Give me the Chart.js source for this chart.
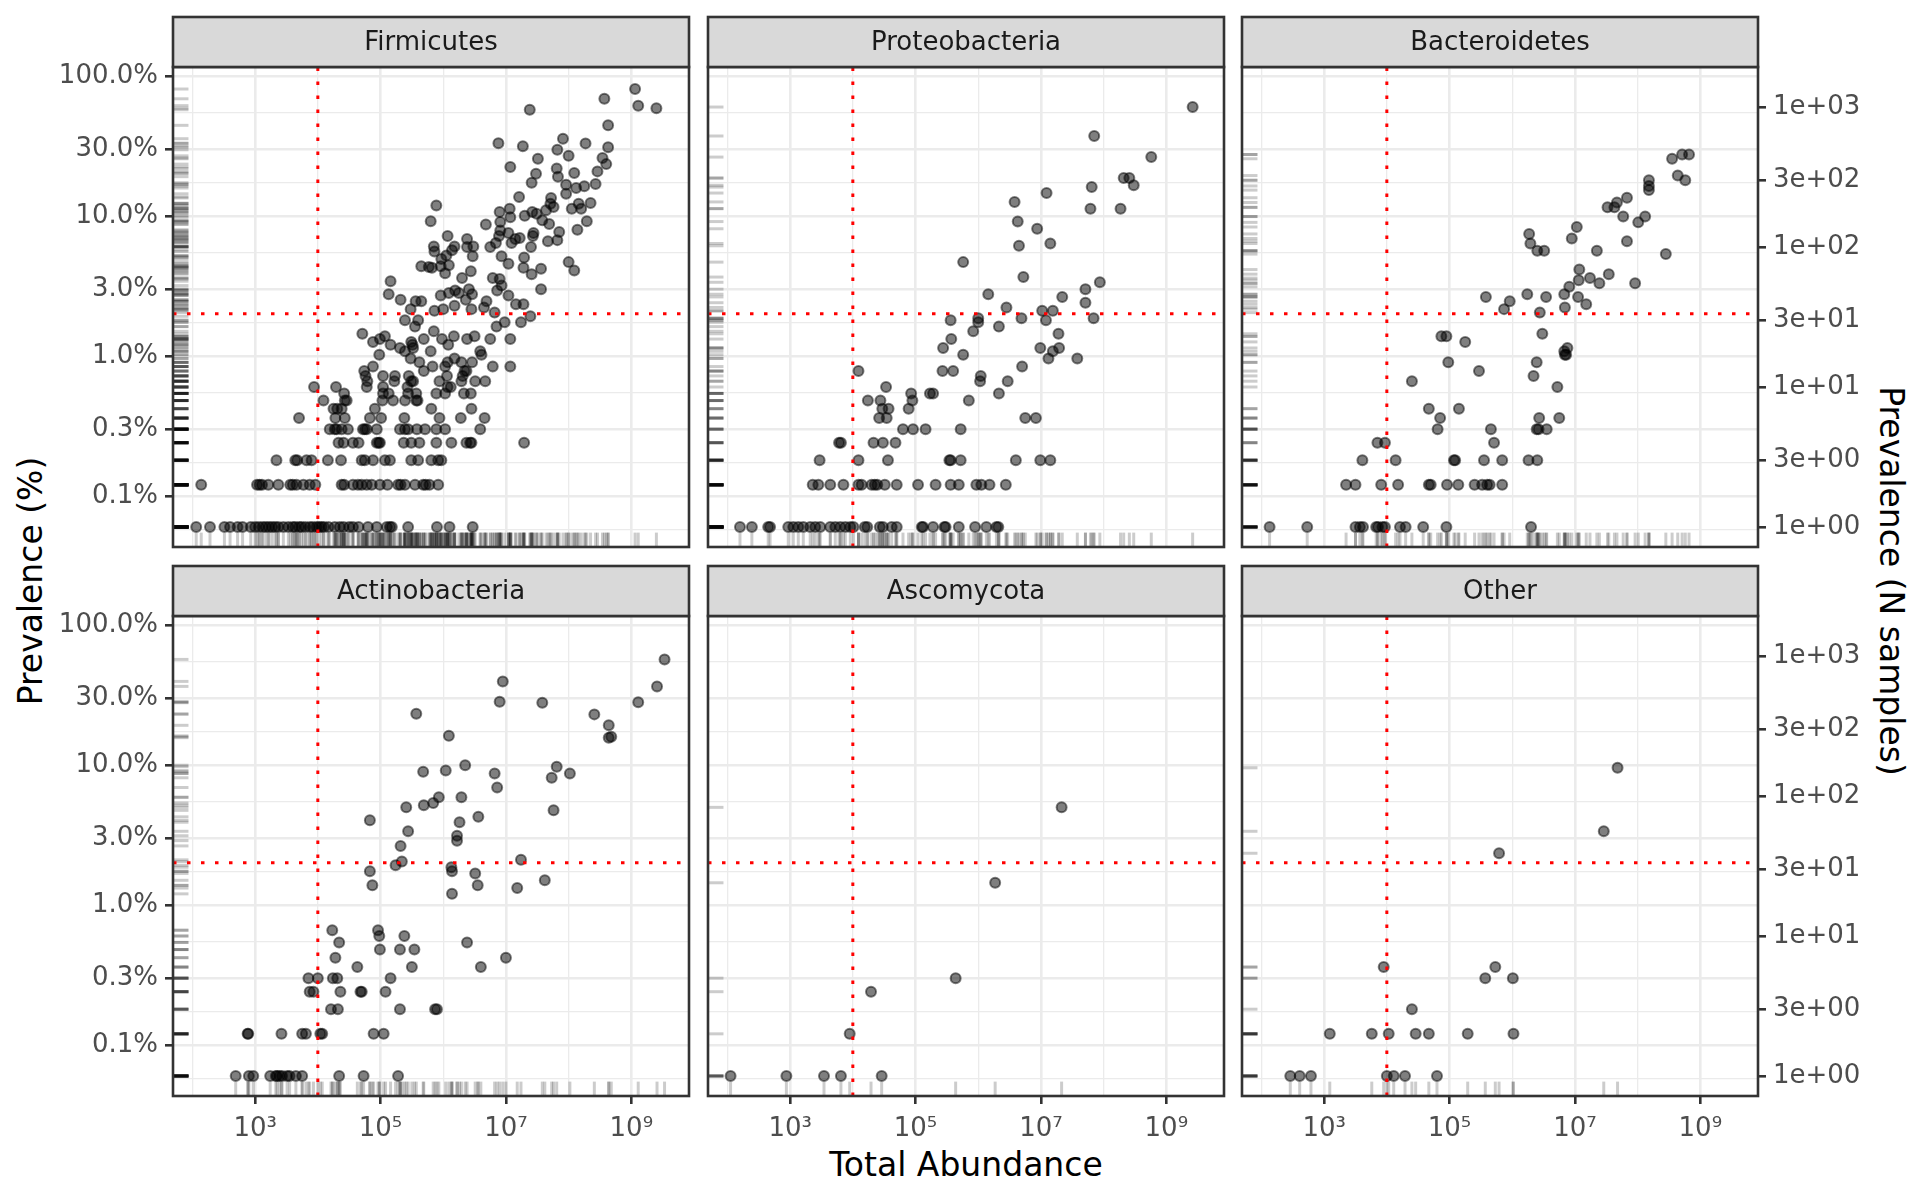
<!DOCTYPE html>
<html lang="en">
<head>
<meta charset="UTF-8">
<title>Prevalence vs Total Abundance by Phylum</title>
<script src="https://cdn.jsdelivr.net/npm/chart.js"></script>
<style>
  body { margin: 0; background: #fff; font-family: "DejaVu Sans", sans-serif; }
  #page { position: relative; width: 1920px; height: 1200px; overflow: hidden; background: #fff; }
  canvas.panel { position: absolute; }
  .axis-title { position: absolute; font-size: 33px; color: #000; white-space: nowrap; transform: translate(-50%, -50%); }
  #yTitle { left: 30px; top: 581px; transform: translate(-50%, -50%) rotate(-90deg); }
  #y2Title { left: 1891px; top: 581px; transform: translate(-50%, -50%) rotate(90deg); }
  #xTitle { left: 966px; top: 1164px; }
</style>
</head>
<body>
<div id="page">
  <div class="axis-title" id="yTitle">Prevalence (%)</div>
  <div class="axis-title" id="y2Title">Prevalence (N samples)</div>
  <div class="axis-title" id="xTitle">Total Abundance</div>
</div>

<script>
// each point: [log10 total abundance, prevalence in number of samples]
const firmicutes = [
  [2.06,1],[2.28,1],[2.51,1],[2.6,1],[2.72,1],[2.8,1],[2.93,1],[3.0,1],[3.06,1],[3.12,1],[3.17,1],[3.22,1],
  [3.27,1],[3.32,1],[3.37,1],[3.45,1],[3.53,1],[3.6,1],[3.64,1],[3.7,1],[3.74,1],[3.8,1],[3.87,1],[3.92,1],
  [3.98,1],[4.02,1],[4.06,1],[4.1,1],[4.17,1],[4.27,1],[4.35,1],[4.41,1],[4.5,1],[4.56,1],[4.65,1],[4.8,1],
  [4.94,1],[5.1,1],[5.15,1],[5.18,1],[5.44,1],[5.9,1],[6.1,1],[6.47,1],
  [2.14,2],[3.03,2],[3.07,2],[3.11,2],[3.21,2],[3.37,2],[3.56,2],[3.6,2],[3.66,2],[3.77,2],[3.87,2],[3.96,2],
  [4.38,2],[4.42,2],[4.56,2],[4.64,2],[4.7,2],[4.78,2],[4.86,2],[4.99,2],[5.11,2],[5.28,2],[5.32,2],[5.39,2],
  [5.55,2],[5.68,2],[5.72,2],[5.78,2],[5.92,2],
  [3.34,3],[3.64,3],[3.67,3],[3.82,3],[3.9,3],[4.16,3],[4.37,3],[4.7,3],[4.75,3],[4.88,3],[5.07,3],[5.15,3],
  [5.49,3],[5.6,3],[5.81,3],[5.92,3],[5.97,3],
  [4.33,4],[4.41,4],[4.56,4],[4.65,4],[4.94,4],[4.97,4],[4.99,4],[5.37,4],[5.49,4],[5.62,4],[5.89,4],[6.13,4],
  [6.37,4],[6.43,4],[6.45,4],[7.29,4],
  [4.19,5],[4.27,5],[4.3,5],[4.38,5],[4.48,5],[4.72,5],[4.75,5],[4.78,5],[4.94,5],[5.31,5],[5.39,5],[5.44,5],
  [5.58,5],[5.71,5],[5.89,5],[6.03,5],[6.59,5],
  [3.7,6],[4.28,6],[4.43,6],[4.83,6],[5.01,6],[5.38,6],[5.94,6],[6.28,6],[6.66,6],
  [4.25,7],[4.31,7],[4.38,7],[4.91,7],[5.81,7],[6.45,7],
  [4.09,8],[4.43,8],[4.46,8],[5.03,8],[5.2,8],[5.39,8],[5.57,8],[5.59,8],
  [4.42,9],[5.04,9],[5.13,9],[5.44,9],[5.57,9],[5.89,9],[6.03,9],[6.33,9],[6.44,9],
  [3.94,10],[4.29,10],[4.78,10],[5.04,10],[5.43,10],[6.07,10],[6.12,10],
  [4.79,11],[5.22,11],[5.49,11],[5.52,11],[5.94,11],[6.29,11],[6.51,11],[6.67,11],
  [4.76,12],[5.04,12],[5.23,12],[5.45,12],[6.06,12],[6.31,12],
  [4.74,13],[5.69,13],[6.34,13],[6.37,13],
  [4.88,14],[5.83,14],[6.03,14],[6.79,14],[7.07,14],
  [5.62,15],[6.07,15],[6.29,15],[6.46,15],
  [5.48,16],[6.18,16],[4.98,17],[6.61,17],[5.39,18],[5.8,18],[6.59,18],[5.31,19],[5.52,19],
  [5.16,20],[5.51,20],[6.08,20],[4.88,21],[5.49,21],
  [4.99,22],[5.69,22],[5.98,22],[6.38,22],[6.75,22],[7.07,22],[5.07,23],[6.17,23],[6.5,23],
  [4.71,24],[5.85,25],[5.55,27],[6.85,27],[6.98,29],[7.24,29],[5.39,30],[5.6,30],[6.45,36],
  [7.39,32],[6.82,34],[5.86,35],[5.48,36],[6.0,36],[6.65,37],[6.18,38],[7.16,39],[7.28,39],
  [5.56,41],[5.65,41],[6.69,41],[5.32,42],[6.36,42],[5.96,45],[7.04,45],[5.13,46],[6.46,46],
  [6.09,47],[6.25,47],[6.19,49],[6.86,49],[6.41,50],[7.56,50],[6.93,53],[5.16,57],[6.9,59],
  [6.3,60],[6.79,60],[7.41,64],[6.03,65],[6.44,67],[8.09,68],[7.56,70],[5.82,71],[7.28,71],
  [5.77,72],[5.65,73],[5.96,73],[6.09,74],[7.04,76],[8.0,78],[5.97,82],[7.29,84],[6.47,86],
  [6.93,86],[6.05,87],[5.86,93],[6.14,95],[6.38,100],[6.75,100],[7.4,100],[6.48,101],[6.18,101],
  [5.85,101],[7.09,107],[6.84,107],[7.67,110],[7.82,112],[7.15,114],[6.38,114],[7.22,116],
  [6.89,120],[7.43,120],[6.07,120],[7.04,126],[7.44,126],[7.85,128],[6.91,131],[8.14,133],
  [6.68,145],[7.69,146],[6.91,151],[5.8,153],[8.29,153],[7.58,155],[7.07,163],[7.3,167],
  [7.49,173],[6.9,178],[7.42,178],[7.64,183],[7.06,188],[8.05,188],[8.2,188],[7.76,193],
  [5.89,198],[8.16,204],[7.71,204],[8.35,206],[7.72,224],[7.21,228],[7.96,240],[8.12,264],
  [8.25,272],[7.96,279],[8.43,282],[7.41,288],[7.83,318],[7.48,334],[8.09,338],[8.46,347],
  [7.81,364],[7.07,373],[8.6,391],[7.51,427],[8.54,433],[8.0,448],[7.82,495],[8.63,517],
  [7.27,525],[8.27,550],[6.88,552],[7.91,594],[8.63,740],[7.38,956],[9.4,980],[9.11,1023],
  [8.57,1145],[9.06,1345]
];

const proteobacteria = [
  [2.2,1],[2.39,1],[2.65,1],[2.68,1],[2.97,1],[3.05,1],[3.13,1],[3.21,1],[3.32,1],[3.4,1],[3.48,1],[3.64,1],
  [3.72,1],[3.8,1],[3.88,1],[3.96,1],[4.01,1],[4.19,1],[4.23,1],[4.43,1],[4.48,1],[4.62,1],[4.7,1],[5.1,1],
  [5.12,1],[5.28,1],[5.46,1],[5.48,1],[5.69,1],[5.95,1],[6.13,1],[6.29,1],[6.32,1],
  [3.36,2],[3.45,2],[3.64,2],[3.85,2],[4.09,2],[4.14,2],[4.3,2],[4.35,2],[4.39,2],[4.51,2],[4.7,2],[5.04,2],
  [5.32,2],[5.56,2],[5.69,2],[5.97,2],[6.05,2],[6.18,2],[6.44,2],
  [3.47,3],[4.09,3],[4.56,3],[5.54,3],[5.56,3],[5.72,3],[6.6,3],[6.99,3],[7.15,3],
  [3.78,4],[3.81,4],[4.33,4],[4.48,4],[4.68,4],
  [4.8,5],[4.96,5],[5.16,5],[5.72,5],[4.42,6],[4.54,6],[6.75,6],[6.92,6],
  [4.47,7],[4.57,7],[4.89,7],[4.24,8],[4.44,8],[4.95,8],[5.85,8],
  [4.93,9],[5.23,9],[5.28,9],[6.33,9],[4.53,10],[6.03,11],[6.47,11],[6.04,12],
  [4.09,13],[5.43,13],[5.6,13],[6.7,14],[7.12,16],[7.58,16],[5.76,17],[7.19,18],
  [5.44,19],[6.99,19],[7.29,19],[5.57,22],[7.28,24],[5.92,25],[6.33,27],[6.0,29],
  [5.56,30],[7.08,30],[6.0,31],[6.69,31],[7.84,31],[7.02,35],[7.19,35],[6.45,37],[7.71,40],
  [7.34,44],[6.16,46],[7.71,50],[7.94,56],[6.72,61],[5.76,78],[6.65,102],[7.15,106],
  [6.94,135],[6.63,152],[7.79,188],[8.27,188],[6.58,210],[7.09,243],[7.81,268],[8.48,276],
  [8.32,311],[8.41,311],[8.76,439],[7.85,621],[9.42,1000]
];

const bacteroidetes = [
  [2.13,1],[2.73,1],[3.5,1],[3.57,1],[3.62,1],[3.83,1],[3.86,1],[3.93,1],[3.97,1],[4.21,1],[4.3,1],[4.58,1],
  [4.95,1],[6.3,1],
  [3.35,2],[3.5,2],[3.91,2],[4.18,2],[4.67,2],[4.7,2],[4.96,2],[5.14,2],[5.4,2],[5.52,2],[5.6,2],[5.64,2],[5.84,2],
  [3.61,3],[4.14,3],[5.07,3],[5.09,3],[5.55,3],[5.84,3],[6.26,3],[6.4,3],
  [3.85,4],[3.97,4],[5.71,4],[4.81,5],[5.66,5],[6.39,5],[6.42,5],[6.55,5],
  [4.85,6],[6.43,6],[6.75,6],[4.67,7],[5.15,7],
  [6.72,10],[4.4,11],[6.34,12],[5.47,13],[4.98,15],[6.39,15],[6.84,17],[6.86,17],[6.83,18],
  [6.88,19],[5.25,21],[4.87,23],[4.95,23],[6.48,24],[6.44,34],[5.87,36],[6.84,37],[7.18,39],
  [5.96,41],[5.58,44],[6.54,44],[7.05,44],[6.24,46],[6.83,46],[6.91,52],[7.96,55],[7.39,55],
  [7.06,58],[7.24,60],[7.54,64],[7.07,69],[8.45,89],[6.4,94],[6.51,94],[7.35,94],[6.29,106],
  [7.83,110],[6.95,115],[6.27,124],[7.03,139],[8.01,150],[7.77,165],[8.12,165],[7.52,192],
  [7.63,192],[7.67,208],[7.83,225],[8.18,255],[8.18,273],[8.18,300],[8.76,300],[8.64,324],
  [8.55,427],[8.71,458],[8.82,458]
];

const actinobacteria = [
  [2.69,1],[2.9,1],[2.97,1],[3.24,1],[3.33,1],[3.35,1],[3.39,1],[3.43,1],[3.51,1],[3.55,1],[3.65,1],[3.75,1],
  [4.34,1],[4.73,1],[5.28,1],
  [2.88,2],[2.89,2],[3.42,2],[3.75,2],[3.81,2],[4.04,2],[4.07,2],[4.89,2],[5.05,2],
  [4.21,3],[4.32,3],[5.31,3],[5.87,3],[5.9,3],
  [3.87,4],[3.93,4],[4.36,4],[4.68,4],[4.7,4],[5.08,4],
  [3.85,5],[4.0,5],[4.24,5],[4.31,5],[5.16,5],[4.63,6],[5.5,6],[6.6,6],[4.28,7],[7.0,7],
  [4.99,8],[5.31,8],[5.54,8],[4.34,9],[6.38,9],[4.98,10],[5.38,10],[4.23,11],[4.96,11],
  [6.14,20],[7.18,22],[4.87,23],[6.55,23],[7.62,25],[6.51,28],[4.83,29],[6.14,29],[6.13,31],
  [5.24,32],[5.34,34],[7.24,35],[5.32,44],[6.22,48],[6.22,52],[5.44,56],[6.26,65],[4.83,67],
  [6.56,71],[7.76,79],[5.41,83],[5.69,86],[5.84,89],[5.93,98],[6.29,98],[6.86,115],[7.73,135],
  [6.82,145],[8.02,145],[5.68,149],[6.04,152],[7.81,162],[6.35,166],[8.64,261],[8.68,265],
  [6.09,269],[8.64,320],[8.41,383],[5.57,387],[7.58,464],[9.11,468],[6.9,472],[9.41,607],
  [6.95,659],[9.53,946]
];

const ascomycota = [
  [2.05,1],[2.94,1],[3.54,1],[3.81,1],[4.46,1],[3.95,2],[4.29,4],[5.64,5],[6.27,24],[7.33,83]
];

const otherPhyla = [
  [2.46,1],[2.61,1],[2.79,1],[4.0,1],[4.11,1],[4.29,1],[4.8,1],
  [3.09,2],[3.76,2],[4.03,2],[4.46,2],[4.67,2],[5.29,2],[6.02,2],
  [4.4,3],[5.57,5],[6.01,5],[3.95,6],[5.73,6],[5.79,39],[7.46,56],[7.68,159]
];

const panelNames = ['Firmicutes', 'Proteobacteria', 'Bacteroidetes', 'Actinobacteria', 'Ascomycota', 'Other'];
const panelData = [firmicutes, proteobacteria, bacteroidetes, actinobacteria, ascomycota, otherPhyla];

const xMajorTicks = [1e3, 1e5, 1e7, 1e9];
const xTickLabels = ['10³', '10⁵', '10⁷', '10⁹'];
const xMinorTicks = [1e2, 1e4, 1e6, 1e8];
const pctMajorTicks = [0.1, 0.3, 1, 3, 10, 30, 100];
const pctTickLabels = ['0.1%', '0.3%', '1.0%', '3.0%', '10.0%', '30.0%', '100.0%'];
const pctMinorTicks = [0.0577, 0.1732, 0.5477, 1.732, 5.477, 17.32, 54.77];
const sampleTicks = [1, 3, 10, 30, 100, 300, 1000];
const sampleTickLabels = ['1e+00', '3e+00', '1e+01', '3e+01', '1e+02', '3e+02', '1e+03'];

const TOTAL_SAMPLES = 1668;
const ABUNDANCE_CUTOFF = 1e4;
const PREVALENCE_CUTOFF = 2; // percent

// axis ranges (log10)
const X_MIN = Math.pow(10, 1.69), X_MAX = Math.pow(10, 9.92);
const N_MIN = Math.pow(10, -0.143), N_MAX = Math.pow(10, 3.286);
const PCT_MIN = N_MIN * 100 / TOTAL_SAMPLES, PCT_MAX = N_MAX * 100 / TOTAL_SAMPLES;

// layout in page pixels
const PANEL_W = 516, PANEL_H = 480, STRIP_H = 50;
const AXIS_L = 173, AXIS_R = 162, AXIS_B = 104, TOP = 67;
const colLeft = [173, 708, 1242];
const rowTop = [67, 616];

const GRID = '#EBEBEB', DARK = '#333333', TEXT = '#4D4D4D';
const MAJOR_W = 2.6, MINOR_W = 1.3;

Chart.defaults.font.family = '"DejaVu Sans", sans-serif';

const isIn = (list, v) => list.some(t => Math.abs(t - v) / t < 1e-6);

// rugs, cut-off lines, panel frame and facet strip
const panelDecor = {
  id: 'panelDecor',
  afterDatasetsDraw(chart) {
    const { ctx, chartArea: a, scales } = chart;
    const pts = chart.data.datasets[0].data;
    ctx.save();
    ctx.lineWidth = 3;
    ctx.strokeStyle = 'rgba(0,0,0,0.2)';
    const rugH = PANEL_W * 0.03, rugV = PANEL_H * 0.03;
    pts.forEach(p => {
      const py = scales.y2.getPixelForValue(p.y);
      ctx.beginPath(); ctx.moveTo(a.left, py); ctx.lineTo(a.left + rugH, py); ctx.stroke();
      const px = scales.x.getPixelForValue(p.x);
      ctx.beginPath(); ctx.moveTo(px, a.bottom); ctx.lineTo(px, a.bottom - rugV); ctx.stroke();
    });
    // dotted red cut-offs
    ctx.strokeStyle = '#FF0000';
    ctx.lineWidth = 3;
    ctx.setLineDash([3.5, 10.5]);
    const vx = scales.x.getPixelForValue(ABUNDANCE_CUTOFF);
    ctx.beginPath(); ctx.moveTo(vx, a.bottom); ctx.lineTo(vx, a.top); ctx.stroke();
    const hy = scales.y.getPixelForValue(PREVALENCE_CUTOFF);
    ctx.beginPath(); ctx.moveTo(a.left, hy); ctx.lineTo(a.right, hy); ctx.stroke();
    ctx.restore();
  },
  afterDraw(chart, args, opts) {
    const { ctx, chartArea: a } = chart;
    ctx.save();
    ctx.lineWidth = MAJOR_W;
    ctx.strokeStyle = DARK;
    ctx.strokeRect(a.left, a.top, a.right - a.left, a.bottom - a.top);
    ctx.fillStyle = '#D9D9D9';
    ctx.fillRect(a.left, a.top - STRIP_H, a.right - a.left, STRIP_H);
    ctx.strokeRect(a.left, a.top - STRIP_H, a.right - a.left, STRIP_H);
    ctx.fillStyle = '#1A1A1A';
    ctx.font = '26px "DejaVu Sans"';
    ctx.textAlign = 'center';
    ctx.textBaseline = 'middle';
    ctx.fillText(opts.label, (a.left + a.right) / 2, a.top - STRIP_H / 2 + 1);
    ctx.restore();
  }
};

function logAxis(min, max, majors, minors, labels, showLabels, extra) {
  return Object.assign({
    type: 'logarithmic',
    min, max,
    bounds: 'data',
    afterBuildTicks: s => {
      s.ticks = majors.concat(minors).sort((a, b) => a - b).map(v => ({ value: v }));
    },
    border: { display: false },
    grid: {
      color: GRID,
      lineWidth: c => (c.tick && isIn(majors, c.tick.value)) ? MAJOR_W : MINOR_W,
      drawTicks: showLabels,
      tickLength: 8,
      tickWidth: MAJOR_W,
      tickColor: c => (c.tick && isIn(majors, c.tick.value)) ? DARK : 'rgba(0,0,0,0)'
    },
    ticks: {
      display: showLabels,
      autoSkip: false,
      maxRotation: 0,
      minRotation: 0,
      color: TEXT,
      font: { size: 26 },
      callback: v => {
        const i = majors.findIndex(t => Math.abs(t - v) / t < 1e-6);
        return i < 0 ? '' : labels[i];
      }
    }
  }, extra);
}

const page = document.getElementById('page');

panelData.forEach((points, idx) => {
  const col = idx % 3, row = Math.floor(idx / 3);
  const canvas = document.createElement('canvas');
  canvas.className = 'panel';
  canvas.width = AXIS_L + PANEL_W + AXIS_R;
  canvas.height = TOP + PANEL_H + AXIS_B;
  canvas.style.width = canvas.width + 'px';
  canvas.style.height = canvas.height + 'px';
  canvas.style.left = (colLeft[col] - AXIS_L) + 'px';
  canvas.style.top = (rowTop[row] - TOP) + 'px';
  page.appendChild(canvas);

  const xAxis = logAxis(X_MIN, X_MAX, xMajorTicks, xMinorTicks, xTickLabels, row === 1, {
    position: 'bottom',
    afterFit: s => { s.height = AXIS_B; }
  });
  xAxis.ticks.padding = 10;

  const yAxis = logAxis(PCT_MIN, PCT_MAX, pctMajorTicks, pctMinorTicks, pctTickLabels, col === 0, {
    position: 'left',
    afterFit: s => { s.width = AXIS_L; }
  });
  yAxis.ticks.padding = 7;

  const y2Axis = logAxis(N_MIN, N_MAX, sampleTicks, [], sampleTickLabels, col === 2, {
    position: 'right',
    afterFit: s => { s.width = AXIS_R; }
  });
  y2Axis.grid.drawOnChartArea = false;
  y2Axis.ticks.padding = 7;

  new Chart(canvas, {
    type: 'scatter',
    data: {
      datasets: [{
        label: panelNames[idx],
        data: points.map(([lx, n]) => ({ x: Math.pow(10, lx), y: n })),
        xAxisID: 'x',
        yAxisID: 'y2',
        pointRadius: 5,
        pointHoverRadius: 5,
        pointBorderWidth: 2,
        pointBackgroundColor: 'rgba(0,0,0,0.5)',
        pointBorderColor: 'rgba(0,0,0,0.5)'
      }]
    },
    options: {
      responsive: false,
      animation: false,
      devicePixelRatio: 1,
      events: [],
      layout: { padding: { top: TOP, left: 0, right: 0, bottom: 0 }, autoPadding: false },
      plugins: {
        legend: { display: false },
        tooltip: { enabled: false },
        panelDecor: { label: panelNames[idx] }
      },
      scales: { x: xAxis, y: yAxis, y2: y2Axis }
    },
    plugins: [panelDecor]
  });
});
</script>
</body>
</html>
